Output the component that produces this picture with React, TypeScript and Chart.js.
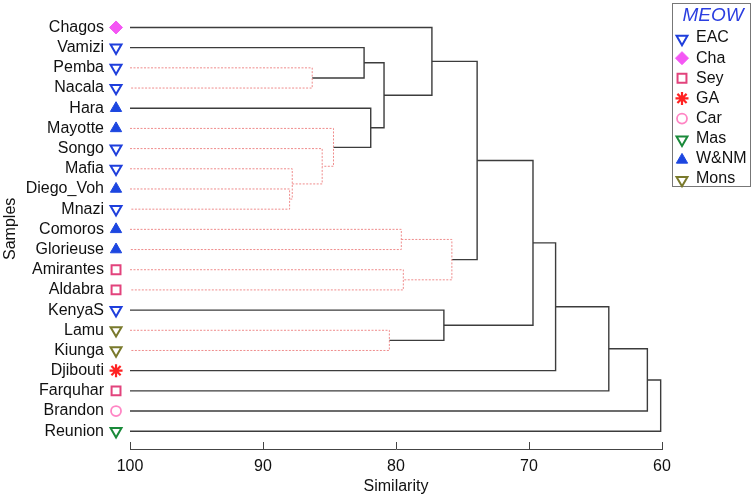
import React, { useEffect, useRef } from 'react';
import { Chart, registerables } from 'chart.js';
import { drawPoint } from 'chart.js/helpers';

Chart.register(...registerables);

// ---------------- data ----------------
const samples = [
  'Chagos', 'Vamizi', 'Pemba', 'Nacala', 'Hara', 'Mayotte', 'Songo', 'Mafia',
  'Diego_Voh', 'Mnazi', 'Comoros', 'Glorieuse', 'Amirantes', 'Aldabra', 'KenyaS',
  'Lamu', 'Kiunga', 'Djibouti', 'Farquhar', 'Brandon', 'Reunion',
];
const sampleRegion = [
  'Cha', 'EAC', 'EAC', 'EAC', 'W&NM', 'W&NM', 'EAC', 'EAC',
  'W&NM', 'EAC', 'W&NM', 'W&NM', 'Sey', 'Sey', 'EAC',
  'Mons', 'Mons', 'GA', 'Sey', 'Car', 'Mas',
];
const regions = ['EAC', 'Cha', 'Sey', 'GA', 'Car', 'Mas', 'W&NM', 'Mons'];

// merges: node id = samples.length + merge index
const mergeA = [2, 1, 8, 7, 6, 5, 4, 22, 0, 10, 12, 30, 29, 15, 14, 33, 36, 37, 38, 39];
const mergeB = [3, 21, 9, 23, 24, 25, 26, 27, 28, 11, 13, 31, 32, 16, 34, 35, 17, 18, 19, 20];
const mergeSimilarity = [86.3, 82.4, 88.0, 87.8, 85.55, 84.7, 81.9, 80.9, 77.3, 79.6, 79.45, 75.8, 73.9, 80.5, 76.4, 69.7, 68.0, 64.0, 61.1, 60.1];
const mergeSignificant = [false, true, false, false, false, false, true, true, true, false, false, false, true, false, true, true, true, true, true, true];

const xTicks = [100, 90, 80, 70, 60];

// ---------------- styles ----------------
const FONT = '"Liberation Sans", Arial, Helvetica, sans-serif';
const CLEAR = 'rgba(0,0,0,0)';
const regionStyle: Record<string, { shape: string; rot: number; r: number; fill: string; stroke: string; lw: number }> = {
  EAC: { shape: 'triangle', rot: 180, r: 6.3, fill: CLEAR, stroke: '#1f3fdc', lw: 2 },
  Cha: { shape: 'rectRot', rot: 0, r: 6.5, fill: '#f457f4', stroke: '#f457f4', lw: 1 },
  Sey: { shape: 'rect', rot: 0, r: 6.3, fill: CLEAR, stroke: '#e2437c', lw: 2 },
  GA: { shape: 'star', rot: 0, r: 6.5, fill: '#ff2222', stroke: '#ff2222', lw: 2.2 },
  Car: { shape: 'circle', rot: 0, r: 5, fill: CLEAR, stroke: '#ff85c4', lw: 1.8 },
  Mas: { shape: 'triangle', rot: 180, r: 6.3, fill: CLEAR, stroke: '#1a8a3a', lw: 2 },
  'W&NM': { shape: 'triangle', rot: 0, r: 6.5, fill: '#1c46e0', stroke: '#1c46e0', lw: 1 },
  Mons: { shape: 'triangle', rot: 180, r: 6.3, fill: CLEAR, stroke: '#7a7a2c', lw: 2 },
};
const MARKER_X = 101.05;
const BLACK_LINE = '#3c3c3c';
const RED_LINE = '#ef8c8c';

// ---------------- build dendrogram geometry ----------------
function buildSegments() {
  const nodeX: number[] = samples.map(() => 100);
  const nodeY: number[] = samples.map((_, i) => i);
  const sets: any[] = [];
  mergeA.forEach((a, k) => {
    const b = mergeB[k];
    const v = mergeSimilarity[k];
    const id = samples.length + k;
    nodeX[id] = v;
    nodeY[id] = (nodeY[a] + nodeY[b]) / 2;
    const sig = mergeSignificant[k];
    sets.push({
      type: 'scatter',
      showLine: true,
      data: [
        { x: nodeX[a], y: nodeY[a] },
        { x: v, y: nodeY[a] },
        { x: v, y: nodeY[b] },
        { x: nodeX[b], y: nodeY[b] },
      ],
      borderColor: sig ? BLACK_LINE : RED_LINE,
      borderWidth: sig ? 1.4 : 1,
      borderDash: sig ? [] : [2, 1.5],
      pointRadius: 0,
      fill: false,
      tension: 0,
      clip: false,
    });
  });
  return sets;
}

// let the sample markers (left of the plot area, next to the labels) be drawn
const markerAreaPlugin = {
  id: 'markerArea',
  beforeDatasetDraw(chart: any, args: any) {
    if (chart.data.datasets[args.index]?.id !== 'markers') return;
    chart.$savedArea = chart.chartArea;
    chart.chartArea = { ...chart.chartArea, left: 0 };
  },
  afterDatasetDraw(chart: any, args: any) {
    if (chart.data.datasets[args.index]?.id !== 'markers') return;
    if (chart.$savedArea) chart.chartArea = chart.$savedArea;
  },
};

const upTicksPlugin = {
  id: 'upTicks',
  afterDraw(chart: any) {
    const xs = chart.scales.x;
    const ctx = chart.ctx;
    const bottom = chart.chartArea.bottom;
    ctx.save();
    ctx.strokeStyle = '#444';
    ctx.lineWidth = 1;
    xTicks.forEach((t) => {
      const px = Math.round(xs.getPixelForValue(t)) + 0.5;
      ctx.beginPath();
      ctx.moveTo(px, bottom - 7);
      ctx.lineTo(px, bottom);
      ctx.stroke();
    });
    ctx.restore();
  },
};

const legendPlugin = {
  id: 'meowLegend',
  afterDraw(chart: any) {
    const ctx = chart.ctx;
    ctx.save();
    ctx.strokeStyle = '#777';
    ctx.lineWidth = 1;
    ctx.strokeRect(672.5, 3.5, 78, 183);
    ctx.font = `italic 19px ${FONT}`;
    ctx.fillStyle = '#2b3ee0';
    ctx.textAlign = 'center';
    ctx.textBaseline = 'middle';
    ctx.fillText('MEOW', 713, 16);
    ctx.font = `16px ${FONT}`;
    ctx.textAlign = 'left';
    regions.forEach((r, i) => {
      const y = 38 + i * 20.15;
      const st = regionStyle[r];
      ctx.fillStyle = st.fill;
      ctx.strokeStyle = st.stroke;
      ctx.lineWidth = st.lw;
      ctx.setLineDash([]);
      drawPoint(ctx, { pointStyle: st.shape as any, rotation: st.rot, radius: st.r, borderWidth: st.lw }, 682, y + (st.shape === 'triangle' ? 1 : 0));
      ctx.fillStyle = '#111';
      ctx.fillText(r, 696, y);
    });
    ctx.restore();
  },
};

export default function App() {
  const ref = useRef<HTMLCanvasElement | null>(null);

  useEffect(() => {
    if (!ref.current) return;
    Chart.defaults.font.family = FONT;
    Chart.defaults.font.size = 16;
    Chart.defaults.color = '#111';

    const markerSet = {
      id: 'markers',
      type: 'scatter',
      indexAxis: 'y',
      showLine: false,
      clip: false,
      data: samples.map((_, i) => ({ x: MARKER_X, y: i })),
      pointStyle: sampleRegion.map((r) => regionStyle[r].shape),
      rotation: sampleRegion.map((r) => regionStyle[r].rot),
      pointRadius: sampleRegion.map((r) => regionStyle[r].r),
      pointBackgroundColor: sampleRegion.map((r) => regionStyle[r].fill),
      pointBorderColor: sampleRegion.map((r) => regionStyle[r].stroke),
      pointBorderWidth: sampleRegion.map((r) => regionStyle[r].lw),
    };

    const chart = new Chart(ref.current, {
      type: 'scatter',
      data: { datasets: [...buildSegments(), markerSet] as any },
      options: {
        responsive: false,
        animation: false,
        events: [],
        layout: { padding: { top: 3, right: 93, left: 0, bottom: 0 } },
        plugins: { legend: { display: false }, tooltip: { enabled: false } },
        scales: {
          x: {
            type: 'linear',
            reverse: true,
            min: 60,
            max: 100,
            afterBuildTicks: (s: any) => { s.ticks = xTicks.map((v) => ({ value: v })); },
            afterFit: (s: any) => { s.height = 49; },
            ticks: { padding: 8, color: '#111', font: { size: 16 } },
            grid: { display: true, drawOnChartArea: false, drawTicks: false },
            border: { display: true, color: '#444', width: 1 },
            title: { display: true, text: 'Similarity', color: '#111', font: { size: 16 }, padding: { top: 0, bottom: 2 } },
          },
          y: {
            type: 'linear',
            reverse: true,
            min: -0.93,
            max: 20.88,
            afterBuildTicks: (s: any) => { s.ticks = samples.map((_, i) => ({ value: i })); },
            afterFit: (s: any) => { s.width = 130; s.paddingTop = 0; s.paddingBottom = 0; },
            ticks: {
              autoSkip: false,
              padding: 26,
              color: '#111',
              font: { size: 16 },
              callback: (v: any) => samples[v as number] ?? '',
            },
            grid: { display: false, drawTicks: false },
            border: { display: false },
            title: { display: true, text: 'Samples', color: '#111', font: { size: 16 }, padding: { top: 1, bottom: 0 } },
          },
        },
      } as any,
      plugins: [markerAreaPlugin, upTicksPlugin, legendPlugin],
    });
    return () => chart.destroy();
  }, []);

  return (
    <div style={{ position: 'fixed', left: 0, top: 0, width: 755, height: 498, background: '#fff' }}>
      <canvas ref={ref} width={755} height={498} style={{ display: 'block' }} />
    </div>
  );
}
